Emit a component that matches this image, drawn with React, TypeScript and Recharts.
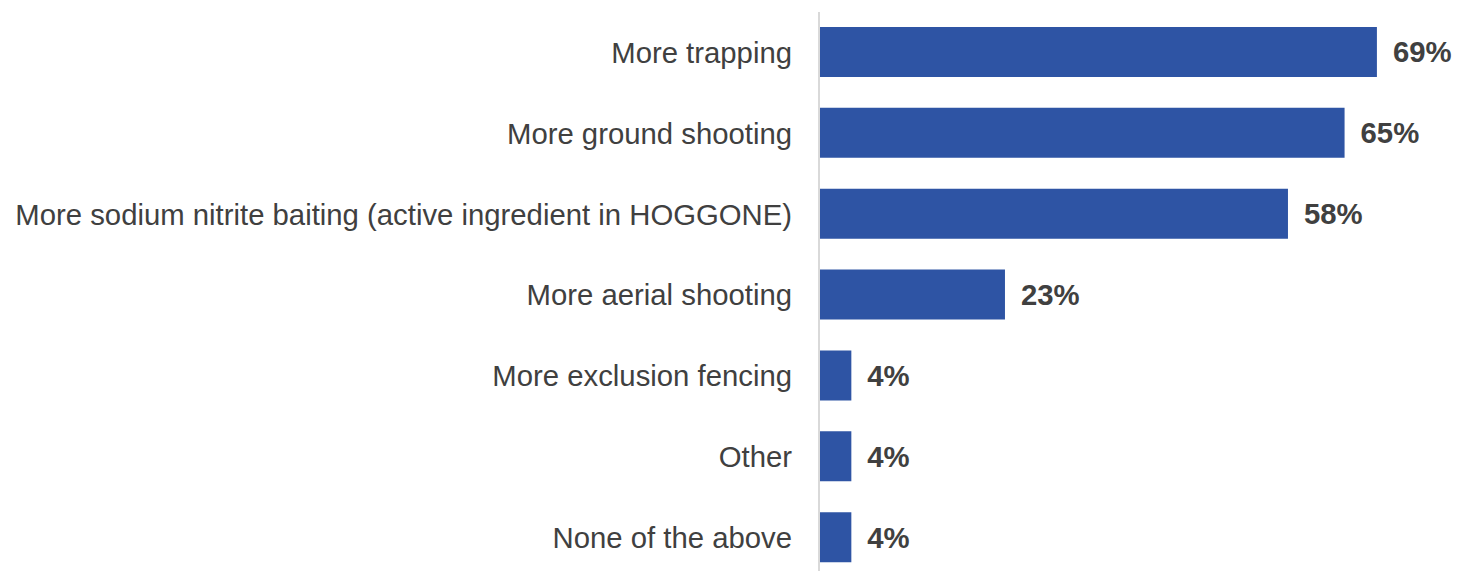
import { BarChart, Bar, XAxis, YAxis, LabelList } from "recharts";

const categories = [
  "More trapping",
  "More ground shooting",
  "More sodium nitrite baiting (active ingredient in HOGGONE)",
  "More aerial shooting",
  "More exclusion fencing",
  "Other",
  "None of the above",
];
const values = [69, 65, 58, 23, 4, 4, 4];

const data = categories.map((name, i) => ({ name, value: values[i] }));

const App = () => {
  return (
    <div style={{ position: "absolute", left: 0, top: 0, width: 1457, height: 590 }}>
      <BarChart
        width={1457}
        height={590}
        data={data}
        layout="vertical"
        barCategoryGap={0}
        margin={{ top: 12, right: 72, left: 0, bottom: 12 }}
      >
        <XAxis type="number" domain={[0, 70]} hide />
        <YAxis
          type="category"
          dataKey="name"
          width={819}
          axisLine={{ stroke: "#d9d9d9", strokeWidth: 2 }}
          tickLine={false}
          tickSize={0}
          tickMargin={27}
          tick={{ fill: "#404040", fontSize: 29.3, fontFamily: "Liberation Sans, Arial, sans-serif" }}
        />
        <Bar dataKey="value" fill="#2e54a4" barSize={50} isAnimationActive={false}>
          <LabelList
            dataKey="value"
            position="right"
            offset={16}
            formatter={(v: number) => `${v}%`}
            style={{
              fill: "#404040",
              fontSize: 29.3,
              fontWeight: "bold",
              fontFamily: "Liberation Sans, Arial, sans-serif",
            }}
          />
        </Bar>
      </BarChart>
    </div>
  );
};

export default App;
